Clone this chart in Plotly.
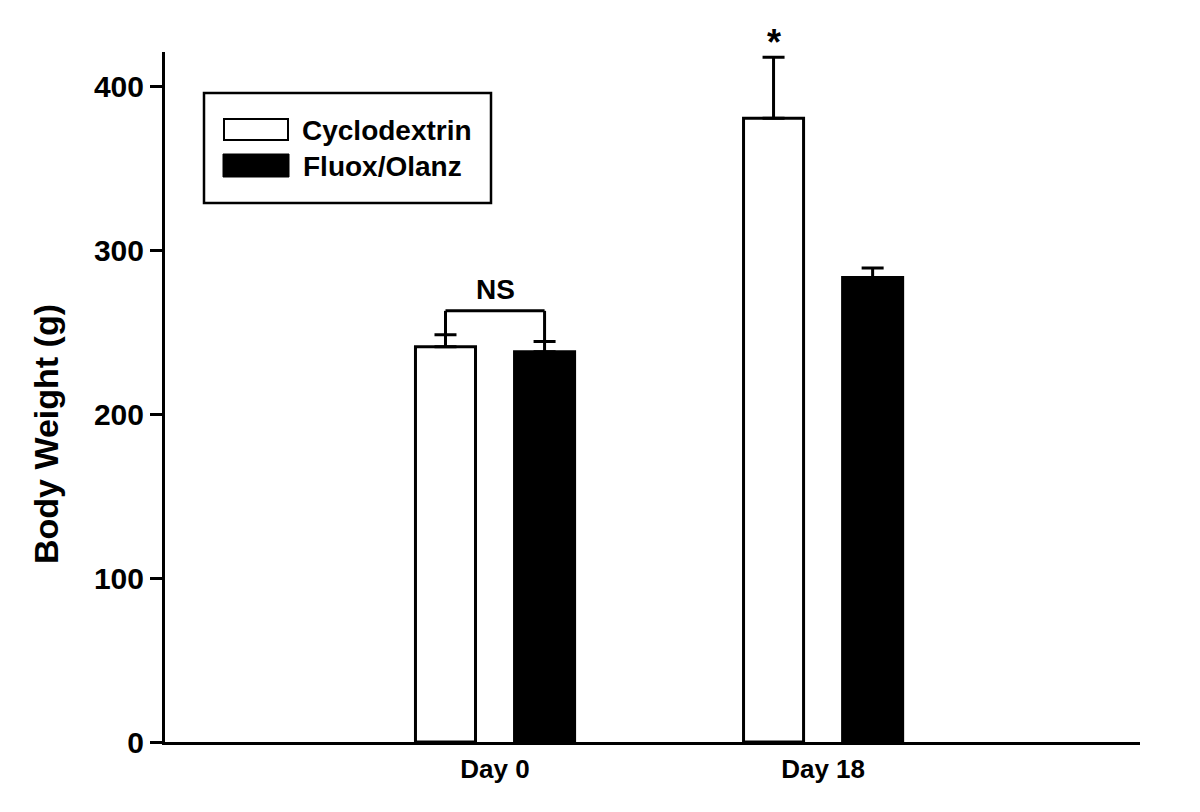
import plotly.graph_objects as go

# ---- data ----
categories = ["Day 0", "Day 18"]
cyclodextrin = [241.1, 380.5]
cyclodextrin_err = [7.3, 37.2]
fluox_olanz = [238.1, 283.3]
fluox_olanz_err = [6.2, 5.9]
series_names = ["Cyclodextrin", "Fluox/Olanz"]
y_ticks = [0, 100, 200, 300, 400]

FONT = "Liberation Sans, Arial, Helvetica, sans-serif"

# layout in pixels (page has an 8px body offset)
OFF = 8
W, H = 1200, 812
ML, MR, MT, MB = 165 - OFF, 60 + OFF, 52 - OFF, 70 + OFF
PW, PH = W - ML - MR, H - MT - MB

def px(x):  # page pixel -> paper x
    return (x - OFF - ML) / PW

def py(y):  # page pixel -> paper y
    return (H - MB - (y - OFF)) / PH

fig = go.Figure()
fig.add_trace(go.Bar(
    x=categories, y=cyclodextrin, name=series_names[0],
    marker=dict(color="white", line=dict(color="black", width=3)),
    error_y=dict(type="data", array=cyclodextrin_err, arrayminus=[0] * len(categories),
                 symmetric=False, color="black", thickness=3, width=11),
    showlegend=False,
))
fig.add_trace(go.Bar(
    x=categories, y=fluox_olanz, name=series_names[1],
    marker=dict(color="black", line=dict(color="black", width=3)),
    error_y=dict(type="data", array=fluox_olanz_err, arrayminus=[0] * len(categories),
                 symmetric=False, color="black", thickness=3, width=11),
    showlegend=False,
))

shapes = []
annotations = []

# NS bracket between Day 0 bars (uses tops of error bars)
slot = 0.302
left_x = -slot / 2
right_x = slot / 2
bracket_y = 263
top_c0 = cyclodextrin[0] + cyclodextrin_err[0]
top_f0 = fluox_olanz[0] + fluox_olanz_err[0]
line_style = dict(color="black", width=3)
shapes.append(dict(type="line", xref="x", yref="y", x0=left_x, x1=left_x, y0=top_c0, y1=bracket_y, line=line_style))
shapes.append(dict(type="line", xref="x", yref="y", x0=right_x, x1=right_x, y0=top_f0, y1=bracket_y, line=line_style))
shapes.append(dict(type="line", xref="x", yref="y", x0=left_x, x1=right_x, y0=bracket_y, y1=bracket_y, line=line_style))
annotations.append(dict(x=0, y=bracket_y, xref="x", yref="y", text="NS", showarrow=False,
                        yanchor="bottom", yshift=4,
                        font=dict(family=FONT, size=28, color="black", weight="bold")))
# star above Day 18 cyclodextrin
annotations.append(dict(x=1 - slot / 2, y=cyclodextrin[1] + cyclodextrin_err[1], xref="x", yref="y",
                        text="*", showarrow=False, yanchor="bottom", yshift=-8,
                        font=dict(family=FONT, size=36, color="black", weight="bold")))

# manual legend
shapes.append(dict(type="rect", xref="paper", yref="paper", x0=px(204), x1=px(491), y0=py(203), y1=py(93),
                   line=dict(color="black", width=2.5), fillcolor="white", layer="below"))
shapes.append(dict(type="rect", xref="paper", yref="paper", x0=px(224), x1=px(288), y0=py(140), y1=py(119),
                   line=dict(color="black", width=2), fillcolor="white"))
shapes.append(dict(type="rect", xref="paper", yref="paper", x0=px(223), x1=px(289), y0=py(177), y1=py(154),
                   line=dict(color="black", width=1), fillcolor="black"))
annotations.append(dict(x=px(300), y=py(130), xref="paper", yref="paper", text=series_names[0],
                        showarrow=False, xanchor="left", yanchor="middle",
                        font=dict(family=FONT, size=28, color="black", weight="bold")))
annotations.append(dict(x=px(301), y=py(166), xref="paper", yref="paper", text=series_names[1],
                        showarrow=False, xanchor="left", yanchor="middle",
                        font=dict(family=FONT, size=28, color="black", weight="bold")))

# y-axis title
annotations.append(dict(x=px(46), y=py(434), xref="paper", yref="paper", text="Body Weight (g)",
                        showarrow=False, textangle=-90, xanchor="center", yanchor="middle",
                        font=dict(family=FONT, size=34, color="black", weight="bold")))

fig.update_layout(
    width=W, height=H,
    margin=dict(l=ML, r=MR, t=MT, b=MB),
    paper_bgcolor="white", plot_bgcolor="white",
    barmode="group", bargap=0.396, bargroupgap=0.394,
    shapes=shapes, annotations=annotations,
    showlegend=False,
    xaxis=dict(
        type="category", range=[-1.006, 1.966],
        showline=True, linecolor="black", linewidth=3,
        ticks="", showgrid=False, zeroline=False,
        tickfont=dict(family=FONT, size=26, color="black", weight="bold"),
        ticklabelstandoff=2,
    ),
    yaxis=dict(
        range=[0, 420.9], tickvals=y_ticks,
        showline=True, linecolor="black", linewidth=3,
        ticks="outside", ticklen=12, tickwidth=3, tickcolor="black",
        showgrid=False, zeroline=False,
        tickfont=dict(family=FONT, size=30, color="black", weight="bold"),
        ticklabelstandoff=0,
    ),
)

fig.write_html("out.html")
